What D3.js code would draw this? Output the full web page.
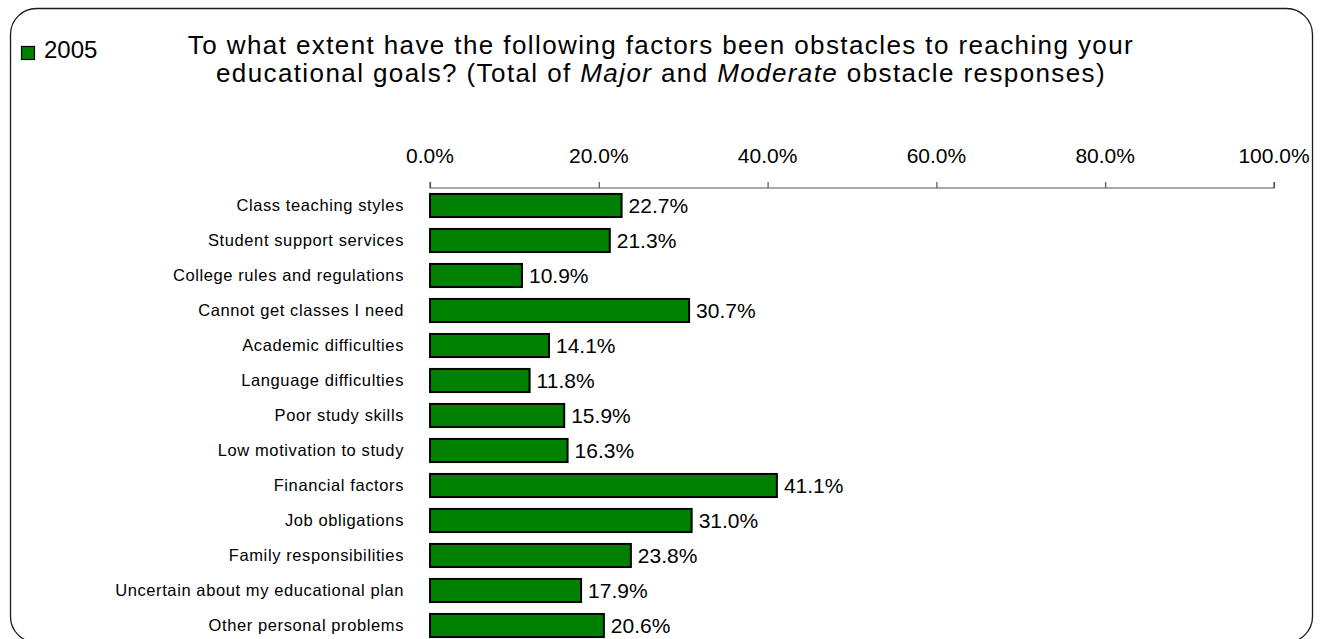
<!DOCTYPE html>
<html>
<head>
<meta charset="utf-8">
<script src="https://cdn.jsdelivr.net/npm/d3@7"></script>
<style>
  html, body { margin: 0; padding: 0; background: #fff; }
  svg { display: block; font-family: "Liberation Sans", Arial, sans-serif; }
</style>
</head>
<body>
<svg id="chart" width="1325" height="639"></svg>
<script>
// Obstacle categories, top to bottom
const categories = [
  "Class teaching styles",
  "Student support services",
  "College rules and regulations",
  "Cannot get classes I need",
  "Academic difficulties",
  "Language difficulties",
  "Poor study skills",
  "Low motivation to study",
  "Financial factors",
  "Job obligations",
  "Family responsibilities",
  "Uncertain about my educational plan",
  "Other personal problems"
];
// Share of Major + Moderate obstacle responses, 2005 (%)
const values2005 = [22.7, 21.3, 10.9, 30.7, 14.1, 11.8, 15.9, 16.3, 41.1, 31.0, 23.8, 17.9, 20.6];
const tickValues = [0, 20, 40, 60, 80, 100];
const seriesName = "2005";

const svg = d3.select("#chart");
const pct = d => d3.format(".1f")(d) + "%";

// Rounded frame around the chart area
svg.append("rect")
  .attr("x", 10.5).attr("y", 8.5)
  .attr("width", 1302).attr("height", 634)
  .attr("rx", 26).attr("ry", 26)
  .attr("fill", "none").attr("stroke", "#1a1a1a").attr("stroke-width", 1.3);

// Legend
svg.append("rect")
  .attr("x", 21.5).attr("y", 46.5).attr("width", 13).attr("height", 13)
  .attr("fill", "#008000").attr("stroke", "#000").attr("stroke-width", 1.2);
svg.append("text")
  .attr("x", 44).attr("y", 58)
  .attr("font-size", 24).attr("fill", "#000")
  .text(seriesName);

// Title
const title = svg.append("text")
  .attr("text-anchor", "middle")
  .attr("font-size", 26).attr("fill", "#000")
  .attr("letter-spacing", 1.4);
title.append("tspan").attr("x", 661).attr("y", 54)
  .text("To what extent have the following factors been obstacles to reaching your");
const l2 = title.append("tspan").attr("x", 661).attr("y", 82);
l2.append("tspan").text("educational goals? (Total of ");
l2.append("tspan").style("font-style", "italic").text("Major");
l2.append("tspan").text(" and ");
l2.append("tspan").style("font-style", "italic").text("Moderate");
l2.append("tspan").text(" obstacle responses)");

// Scales
const x = d3.scaleLinear().domain([0, 100]).range([430, 1274]);
const y = d3.scaleBand().domain(categories).range([188, 643]).paddingInner(0.34).paddingOuter(0.17);

// Top axis: baseline with upward ticks
const axis = svg.append("g")
  .attr("transform", "translate(0,188)")
  .call(d3.axisTop(x).tickValues(tickValues).tickSize(6).tickFormat(""));
axis.select(".domain").attr("stroke", "#555").attr("stroke-width", 1.2)
  .attr("d", `M${x(0)},-6V0H${x(100)}V-6`);
axis.selectAll(".tick line").attr("stroke", "#555").attr("stroke-width", 1.2);

svg.append("g").selectAll("text")
  .data(tickValues)
  .join("text")
  .attr("x", d => x(d))
  .attr("y", 163)
  .attr("text-anchor", "middle")
  .attr("font-size", 21)
  .attr("fill", "#000")
  .text(pct);

// Category labels
svg.append("g").selectAll("text")
  .data(categories)
  .join("text")
  .attr("x", 404)
  .attr("y", d => y(d) + y.bandwidth() / 2 + 5.5)
  .attr("text-anchor", "end")
  .attr("font-size", 16.5)
  .attr("letter-spacing", 0.6)
  .attr("fill", "#000")
  .text(d => d);

// Bars
svg.append("g").selectAll("rect")
  .data(values2005)
  .join("rect")
  .attr("x", x(0))
  .attr("y", (d, i) => y(categories[i]))
  .attr("width", d => x(d) - x(0))
  .attr("height", y.bandwidth())
  .attr("fill", "#008000")
  .attr("stroke", "#000")
  .attr("stroke-width", 2);

// Value labels
svg.append("g").selectAll("text")
  .data(values2005)
  .join("text")
  .attr("x", d => x(d) + 7)
  .attr("y", (d, i) => y(categories[i]) + y.bandwidth() / 2 + 7)
  .attr("font-size", 21)
  .attr("fill", "#000")
  .text(pct);
</script>
</body>
</html>
